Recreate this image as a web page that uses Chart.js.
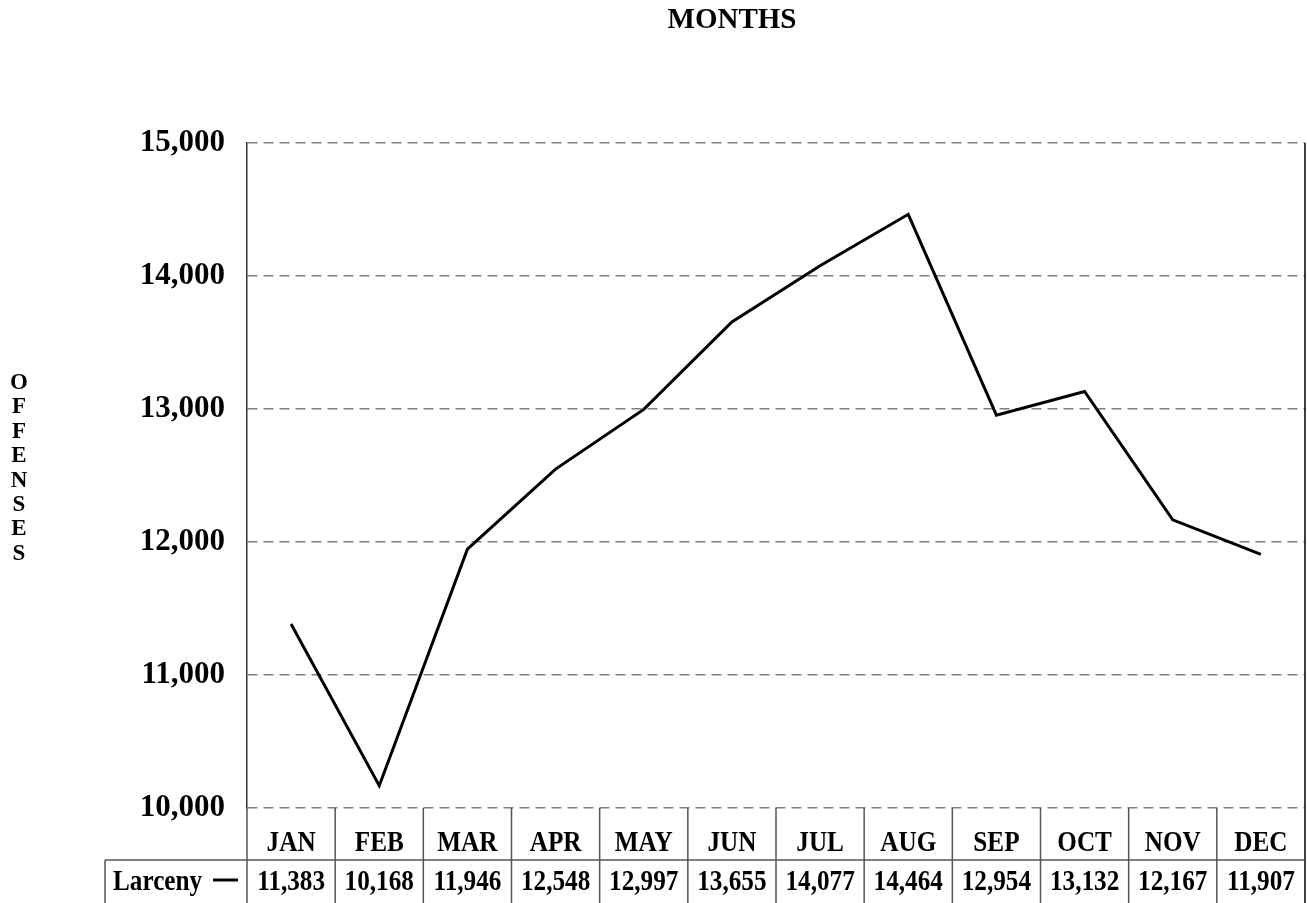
<!DOCTYPE html>
<html>
<head>
<meta charset="utf-8">
<script src="https://cdn.jsdelivr.net/npm/chart.js@4.4.1/dist/chart.umd.min.js"></script>
<style>
  html, body { margin: 0; padding: 0; background: #fff; }
  #wrap { width: 1307px; height: 903px; }
</style>
</head>
<body>
<div id="wrap"><canvas id="chart" width="1307" height="903"></canvas></div>
<script>
// dados do gráfico
const months = ['JAN', 'FEB', 'MAR', 'APR', 'MAY', 'JUN', 'JUL', 'AUG', 'SEP', 'OCT', 'NOV', 'DEC'];
const larceny = [11383, 10168, 11946, 12548, 12997, 13655, 14077, 14464, 12954, 13132, 12167, 11907];
const seriesName = 'Larceny';
const yMin = 10000;
const yMax = 15000;
const yStep = 1000;
const xTitle = 'MONTHS';
const yTitle = 'OFFENSES';

const serif = '"Liberation Serif", "Times New Roman", serif';
const fmt = v => v.toLocaleString('en-US');

// texto condensado (como no original)
function drawNarrow(ctx, text, cx, cy, sx) {
    ctx.save();
    ctx.translate(cx, cy);
    ctx.scale(sx, 1);
    ctx.fillText(text, 0, 0);
    ctx.restore();
}

// Desenhar título, eixo Y e tabela de dados
const tablePlugin = {
    id: 'tablePlugin',
    afterDraw(chart) {
        const ctx = chart.ctx;
        const area = chart.chartArea;
        const x = chart.scales.x;
        const half = (x.getPixelForValue(1) - x.getPixelForValue(0)) / 2;
        const row1 = area.bottom + 52;
        const legendLeft = 105;

        ctx.save();
        ctx.fillStyle = '#000';
        ctx.textAlign = 'center';
        ctx.textBaseline = 'middle';

        // título
        ctx.font = 'bold 29px ' + serif;
        ctx.fillText(xTitle, 732, 21);

        // título vertical
        ctx.font = 'bold 23px ' + serif;
        yTitle.split('').forEach((ch, i) => {
            ctx.fillText(ch, 19, 383 + i * 24.4);
        });

        // borda direita
        ctx.strokeStyle = '#000';
        ctx.lineWidth = 1.5;
        ctx.beginPath();
        ctx.moveTo(area.right, area.top);
        ctx.lineTo(area.right, chart.height);
        ctx.stroke();

        // linhas da tabela
        ctx.strokeStyle = '#555';
        ctx.lineWidth = 1.5;
        ctx.beginPath();
        months.forEach((m, i) => {
            const left = x.getPixelForValue(i) - half;
            ctx.moveTo(left, area.bottom);
            ctx.lineTo(left, chart.height);
        });
        ctx.moveTo(legendLeft, row1);
        ctx.lineTo(area.right, row1);
        ctx.moveTo(legendLeft, row1);
        ctx.lineTo(legendLeft, chart.height);
        ctx.stroke();

        // textos da tabela
        ctx.font = 'bold 30px ' + serif;
        months.forEach((m, i) => {
            const cx = x.getPixelForValue(i);
            drawNarrow(ctx, m, cx, area.bottom + 35, 0.84);
            drawNarrow(ctx, fmt(larceny[i]), cx, row1 + 22, 0.84);
        });

        // legenda
        ctx.textAlign = 'left';
        drawNarrow(ctx, seriesName, 113, row1 + 22, 0.84);
        ctx.strokeStyle = '#000';
        ctx.lineWidth = 3;
        ctx.beginPath();
        ctx.moveTo(213, row1 + 20);
        ctx.lineTo(238, row1 + 20);
        ctx.stroke();

        ctx.restore();
    }
};

new Chart(document.getElementById('chart'), {
    type: 'line',
    data: {
        labels: months,
        datasets: [{
            label: seriesName,
            data: larceny,
            borderColor: '#000',
            borderWidth: 3,
            pointRadius: 0,
            tension: 0,
            fill: false
        }]
    },
    options: {
        responsive: false,
        animation: false,
        layout: { padding: { top: 143, right: 2, bottom: 95, left: 0 } },
        plugins: {
            legend: { display: false },
            tooltip: { enabled: false },
            title: { display: false }
        },
        scales: {
            x: {
                type: 'category',
                offset: true,
                display: false
            },
            y: {
                min: yMin,
                max: yMax,
                afterFit: s => { s.width = 247; },
                grid: {
                    color: '#808080',
                    lineWidth: 1.5,
                    drawTicks: false
                },
                // em v4, border.dash tracejia as linhas da grade
                border: { display: true, color: '#333', width: 1.5, dash: [10, 6] },
                ticks: {
                    stepSize: yStep,
                    padding: 22,
                    color: '#000',
                    font: { family: serif, size: 31, weight: 'bold' },
                    callback: v => fmt(v)
                }
            }
        }
    },
    plugins: [tablePlugin]
});
</script>
</body>
</html>
